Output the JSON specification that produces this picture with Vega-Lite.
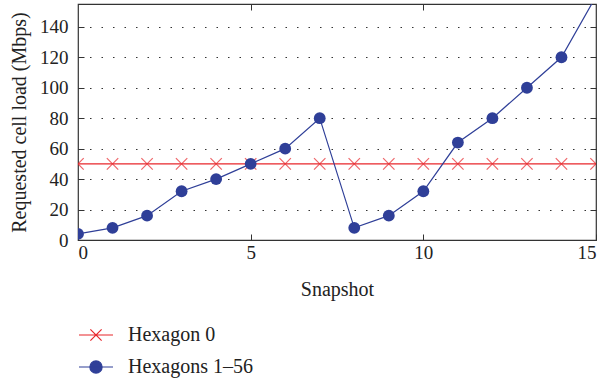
{
  "$schema": "https://vega.github.io/schema/vega-lite/v6.json",
  "width": 518,
  "height": 236,
  "autosize": "none",
  "padding": {"left": 78, "top": 4, "right": 10, "bottom": 143},
  "background": "white",
  "config": {
    "font": "Liberation Serif",
    "view": {"stroke": "#333333", "strokeWidth": 1.2},
    "axis": {
      "labelFont": "Liberation Serif",
      "titleFont": "Liberation Serif",
      "labelFontSize": 19,
      "titleFontSize": 20,
      "titleFontWeight": "normal",
      "labelColor": "#222222",
      "titleColor": "#222222",
      "domain": false,
      "tickColor": "#333333",
      "tickSize": -6,
      "tickWidth": 1
    }
  },
  "data": {
    "values": [
      {"snapshot": 0, "load": 50, "series": "Hexagon 0"},
      {"snapshot": 1, "load": 50, "series": "Hexagon 0"},
      {"snapshot": 2, "load": 50, "series": "Hexagon 0"},
      {"snapshot": 3, "load": 50, "series": "Hexagon 0"},
      {"snapshot": 4, "load": 50, "series": "Hexagon 0"},
      {"snapshot": 5, "load": 50, "series": "Hexagon 0"},
      {"snapshot": 6, "load": 50, "series": "Hexagon 0"},
      {"snapshot": 7, "load": 50, "series": "Hexagon 0"},
      {"snapshot": 8, "load": 50, "series": "Hexagon 0"},
      {"snapshot": 9, "load": 50, "series": "Hexagon 0"},
      {"snapshot": 10, "load": 50, "series": "Hexagon 0"},
      {"snapshot": 11, "load": 50, "series": "Hexagon 0"},
      {"snapshot": 12, "load": 50, "series": "Hexagon 0"},
      {"snapshot": 13, "load": 50, "series": "Hexagon 0"},
      {"snapshot": 14, "load": 50, "series": "Hexagon 0"},
      {"snapshot": 15, "load": 50, "series": "Hexagon 0"},
      {"snapshot": 0, "load": 4, "series": "Hexagons 1–56"},
      {"snapshot": 1, "load": 8, "series": "Hexagons 1–56"},
      {"snapshot": 2, "load": 16, "series": "Hexagons 1–56"},
      {"snapshot": 3, "load": 32, "series": "Hexagons 1–56"},
      {"snapshot": 4, "load": 40, "series": "Hexagons 1–56"},
      {"snapshot": 5, "load": 50, "series": "Hexagons 1–56"},
      {"snapshot": 6, "load": 60, "series": "Hexagons 1–56"},
      {"snapshot": 7, "load": 80, "series": "Hexagons 1–56"},
      {"snapshot": 8, "load": 8, "series": "Hexagons 1–56"},
      {"snapshot": 9, "load": 16, "series": "Hexagons 1–56"},
      {"snapshot": 10, "load": 32, "series": "Hexagons 1–56"},
      {"snapshot": 11, "load": 64, "series": "Hexagons 1–56"},
      {"snapshot": 12, "load": 80, "series": "Hexagons 1–56"},
      {"snapshot": 13, "load": 100, "series": "Hexagons 1–56"},
      {"snapshot": 14, "load": 120, "series": "Hexagons 1–56"},
      {"snapshot": 15, "load": 160, "series": "Hexagons 1–56"}
    ]
  },
  "layer": [
    {
      "mark": {"type": "line", "strokeWidth": 1.2, "clip": true},
      "encoding": {
        "x": {
          "field": "snapshot", "type": "quantitative",
          "scale": {"domain": [0, 15], "nice": false, "zero": false},
          "axis": {"values": [0, 5, 10, 15], "title": "Snapshot", "labelPadding": 9, "titlePadding": 17, "grid": false}
        },
        "y": {
          "field": "load", "type": "quantitative",
          "scale": {"domain": [0, 155], "nice": false},
          "axis": {
            "values": [0, 20, 40, 60, 80, 100, 120, 140],
            "title": "Requested cell load (Mbps)",
            "labelPadding": 16,
            "titlePadding": 10,
            "grid": true,
            "gridColor": "#333333",
            "gridDash": [1.5, 10],
            "gridWidth": 1.2
          }
        },
        "color": {
          "field": "series", "type": "nominal",
          "scale": {"domain": ["Hexagon 0", "Hexagons 1–56"], "range": ["#e8262b", "#2f3f98"]},
          "legend": {
            "title": null,
            "orient": "none",
            "legendX": 0,
            "legendY": 313,
            "direction": "vertical",
            "labelFont": "Liberation Serif",
            "labelFontSize": 20,
            "labelColor": "#222222",
            "symbolSize": 1156,
            "symbolStrokeWidth": 1.2,
            "rowPadding": 4,
            "labelOffset": 14,
            "encode": {
              "symbols": {
                "update": {
                  "shape": {"signal": "datum.value === 'Hexagon 0' ? 'M-1,0H1M-0.33,-0.33L0.33,0.33M-0.33,0.33L0.33,-0.33' : 'M-1,0H1M0.36,0A0.36,0.36,0,1,1,-0.36,0A0.36,0.36,0,1,1,0.36,0Z'"},
                  "fill": {"signal": "datum.value === 'Hexagon 0' ? 'transparent' : '#2f3f98'"},
                  "stroke": {"signal": "datum.value === 'Hexagon 0' ? '#e8262b' : '#2f3f98'"},
                  "strokeWidth": {"value": 1.2}
                }
              }
            }
          }
        }
      }
    },
    {
      "transform": [{"filter": "datum.series === 'Hexagon 0'"}],
      "mark": {"type": "point", "shape": "M-1,-1L1,1M-1,1L1,-1", "filled": false, "size": 130, "strokeWidth": 1.2, "color": "#e8262b", "clip": true},
      "encoding": {
        "x": {"field": "snapshot", "type": "quantitative", "axis": {"orient": "top", "values": [5, 10], "labels": false, "title": null, "grid": false}},
        "y": {"field": "load", "type": "quantitative", "axis": {"orient": "right", "values": [20, 40, 60, 80, 100, 120, 140], "labels": false, "title": null, "grid": false}}
      }
    },
    {
      "transform": [{"filter": "datum.series !== 'Hexagon 0'"}],
      "mark": {"type": "point", "shape": "circle", "filled": true, "size": 140, "opacity": 1, "color": "#2f3f98", "clip": true},
      "encoding": {
        "x": {"field": "snapshot", "type": "quantitative", "axis": null},
        "y": {"field": "load", "type": "quantitative", "axis": null}
      }
    }
  ],
  "resolve": {"axis": {"x": "independent", "y": "independent"}}
}
